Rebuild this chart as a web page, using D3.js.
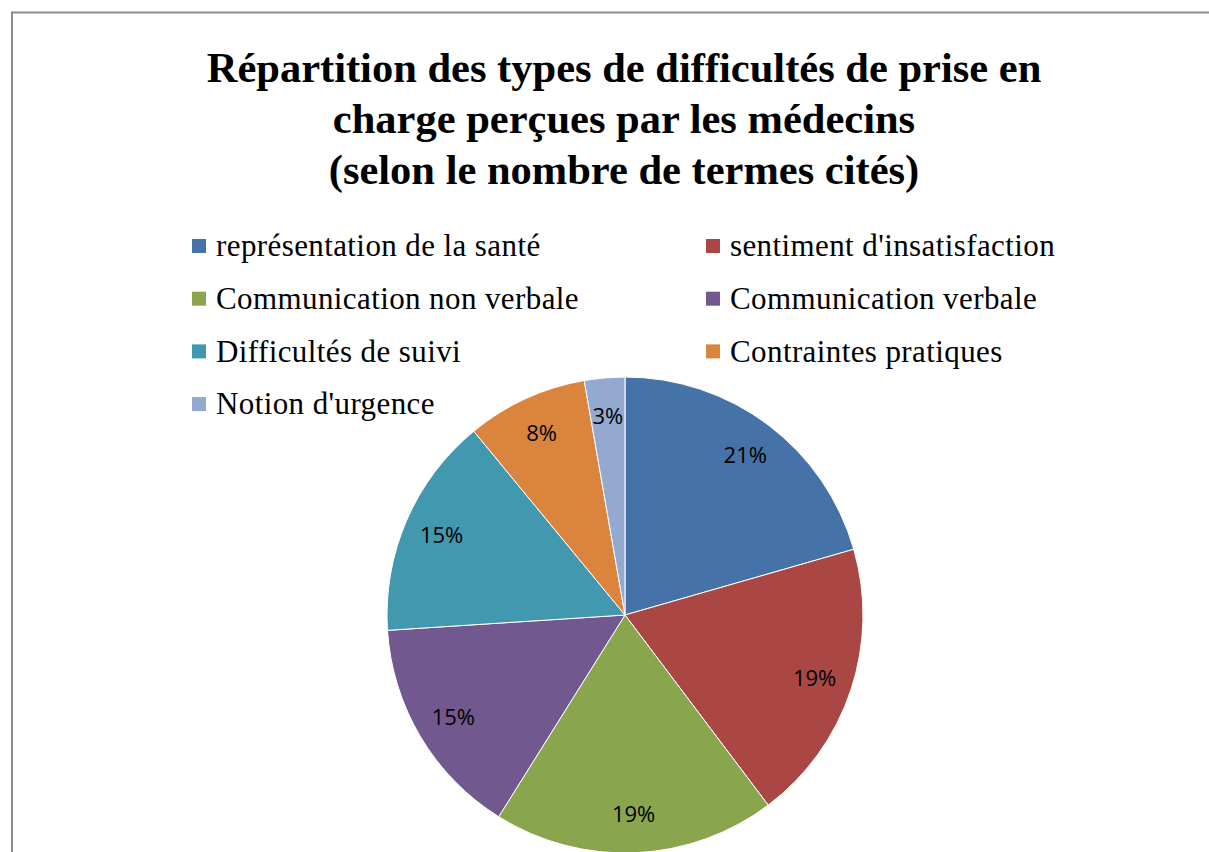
<!DOCTYPE html>
<html>
<head>
<meta charset="UTF-8">
<title>Répartition des difficultés</title>
<script src="https://d3js.org/d3.v7.min.js"></script>
<style>
  body { margin: 0; background: #fff; }
  .title { font-family: "Liberation Serif", "Times New Roman", serif; font-weight: bold; font-size: 42.5px; fill: #000; }
  .legend text { font-family: "Liberation Serif", "Times New Roman", serif; font-size: 31px; letter-spacing: 0.4px; fill: #000; }
  .lbl { font-family: "Open Sans", "Liberation Sans", sans-serif; font-size: 22px; fill: #000; }
</style>
</head>
<body>
<svg width="1209" height="852"></svg>
<script>
var categories = ["représentation de la santé", "sentiment d'insatisfaction", "Communication non verbale",
                  "Communication verbale", "Difficultés de suivi", "Contraintes pratiques", "Notion d'urgence"];
var counts = [15, 14, 14, 11, 11, 6, 2];
var colors = ["#4572A7", "#AA4643", "#89A54E", "#71588F", "#4198AF", "#DB843D", "#93A9CF"];
var titleLines = ["Répartition des types de difficultés de prise en",
                  "charge perçues par les médecins",
                  "(selon le nombre de termes cités)"];

var svg = d3.select("svg");

// frame
svg.append("path")
  .attr("d", "M12,852 V12.5 H1209")
  .attr("fill", "none")
  .attr("stroke", "#8c8c8c")
  .attr("stroke-width", 2);

svg.selectAll(".title").data(titleLines).enter().append("text")
  .attr("class", "title")
  .attr("x", 624)
  .attr("y", function(d, i) { return 82 + i * 51; })
  .attr("text-anchor", "middle")
  .text(function(d) { return d; });

// legend, two columns
var legend = svg.append("g").attr("class", "legend");
var item = legend.selectAll("g").data(categories).enter().append("g")
  .attr("transform", function(d, i) {
    return "translate(" + (i % 2 ? 706 : 192) + "," + (246 + Math.floor(i / 2) * 52.7) + ")";
  });
item.append("rect")
  .attr("y", -7).attr("width", 14).attr("height", 14)
  .attr("fill", function(d, i) { return colors[i]; });
item.append("text")
  .attr("x", 24).attr("dy", "0.33em")
  .text(function(d) { return d; });

// pie
var cx = 625, cy = 615, r = 238;
var total = d3.sum(counts);
var pie = d3.pie().sort(null).value(function(d) { return d; });
var arc = d3.arc().innerRadius(0).outerRadius(r);
var labelArc = d3.arc().innerRadius(r * 0.84).outerRadius(r * 0.84);

var g = svg.append("g").attr("transform", "translate(" + cx + "," + cy + ")");
var arcs = pie(counts);

g.selectAll("path").data(arcs).enter().append("path")
  .attr("d", arc)
  .attr("fill", function(d, i) { return colors[i]; })
  .attr("stroke", "#fff")
  .attr("stroke-width", 1);

g.selectAll(".lbl").data(arcs).enter().append("text")
  .attr("class", "lbl")
  .attr("transform", function(d) { return "translate(" + labelArc.centroid(d) + ")"; })
  .attr("text-anchor", "middle")
  .attr("dy", "0.35em")
  .text(function(d) { return Math.round(d.value / total * 100) + "%"; });
</script>
</body>
</html>
